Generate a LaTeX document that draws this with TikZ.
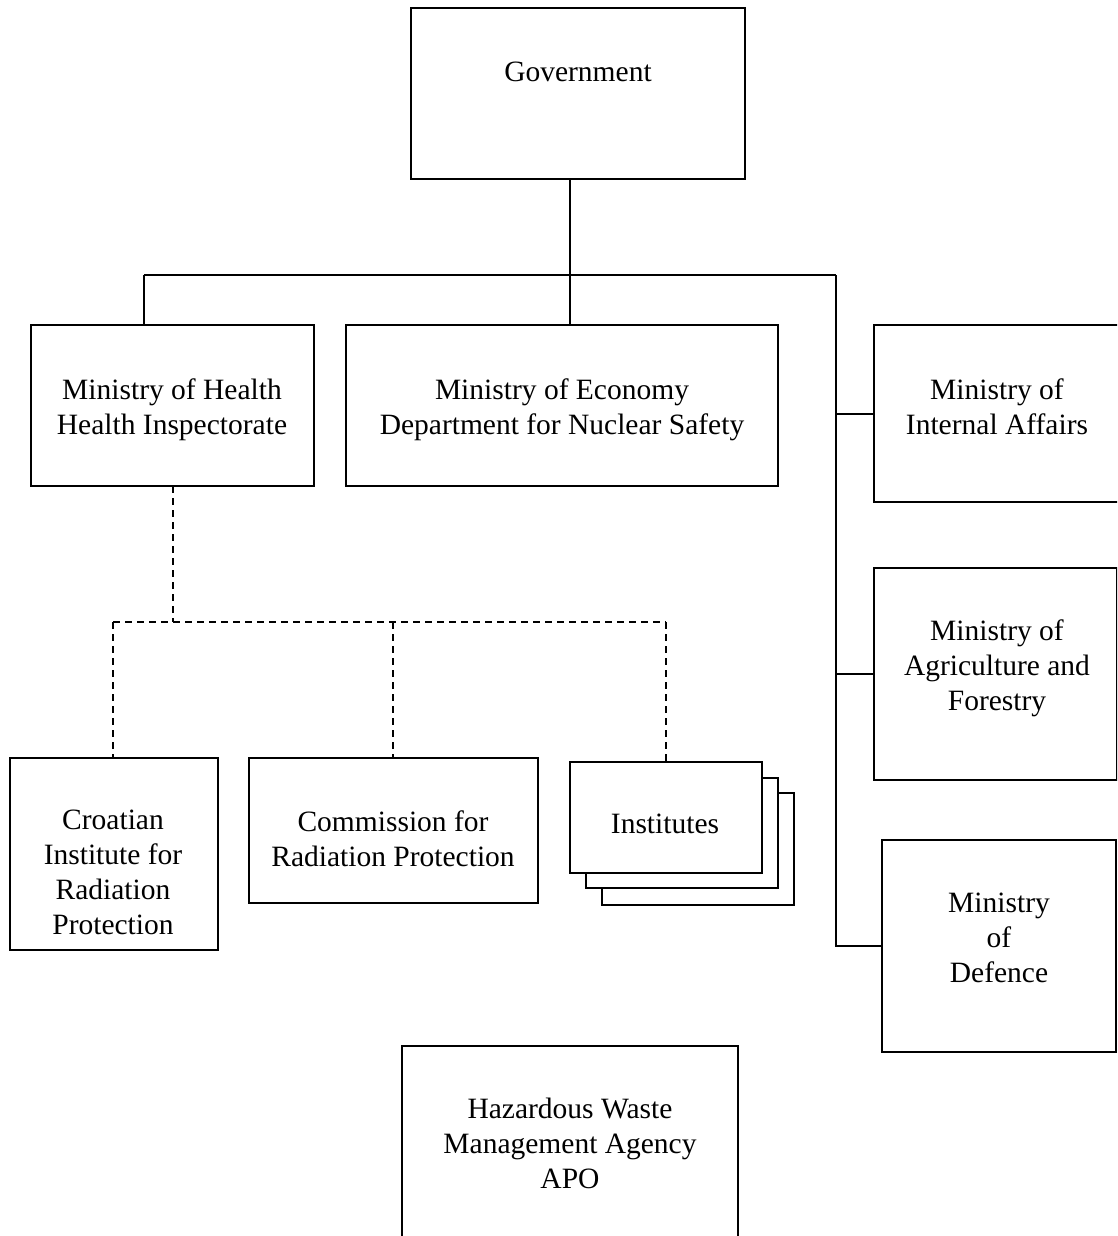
\documentclass[tikz,border=0pt]{standalone}
\usepackage{fontspec}
\setmainfont{Liberation Serif}
\begin{document}
\begin{tikzpicture}[x=1pt,y=-1pt,
  box/.style={draw=black,line width=2pt,fill=white,rectangle,inner sep=0pt,outer sep=0pt},
  txt/.style={align=center,inner sep=0pt,font=\fontsize{29.5}{35}\selectfont},
  conn/.style={draw=black,line width=2pt},
  dconn/.style={draw=black,line width=2pt,dash pattern=on 7pt off 5pt}]
\clip (0,0) rectangle (1117,1236);
\fill[white] (0,0) rectangle (1117,1236);
% boxes
\node[box,minimum width=334pt,minimum height=171pt] (gov) at (578,93.5) {};
\node[box,minimum width=283pt,minimum height=161pt] (moh) at (172.5,405.5) {};
\node[box,minimum width=432pt,minimum height=161pt] (moe) at (562,405.5) {};
\node[box,minimum width=250pt,minimum height=177pt] (int) at (999,413.5) {};
\node[box,minimum width=243pt,minimum height=212pt] (agr) at (995.5,674) {};
\node[box,minimum width=234pt,minimum height=212pt] (def) at (999,946) {};
\node[box,minimum width=208pt,minimum height=192pt] (cro) at (114,854) {};
\node[box,minimum width=289pt,minimum height=145pt] (com) at (393.5,830.5) {};
\node[box,minimum width=192pt,minimum height=112pt] (inst3) at (698,849) {};
\node[box,minimum width=192pt,minimum height=110pt] (inst2) at (682,833) {};
\node[box,minimum width=192pt,minimum height=111pt] (inst1) at (666,817.5) {};
\node[box,minimum width=336pt,minimum height=200pt] (haz) at (570,1146) {};
% texts
\node[txt] (govT) at (578,72) {Government};
\node[txt] (mohT) at (172,410) {Ministry of Health\\Health Inspectorate};
\node[txt] (moeT) at (562,410) {Ministry of Economy\\Department for Nuclear Safety};
\node[txt] (intT) at (997,407) {Ministry of\\Internal Affairs};
\node[txt] (agrT) at (997,668) {Ministry of\\Agriculture and\\Forestry};
\node[txt] (defT) at (999,938) {Ministry\\of\\Defence};
\node[txt] (croT) at (113,872) {Croatian\\Institute for\\Radiation\\Protection};
\node[txt] (comT) at (393,838.5) {Commission for\\Radiation Protection};
\node[txt] (instT) at (665,824) {Institutes};
\node[txt] (hazT) at (570,1143) {Hazardous Waste\\Management Agency\\APO};
% solid connectors
\coordinate (busL) at (144,275);
\coordinate (busM) at (570,275);
\coordinate (busR) at (836,275);
\draw[conn] (gov.south -| busM) -- (busM);
\draw[conn] (busL) -- (busR);
\draw[conn] (busL) -- (busL |- moh.north);
\draw[conn] (busM) -- (busM |- moe.north);
\draw[conn] (busR) |- (def.west);
\draw[conn] (busR |- int.west) -- (int.west);
\draw[conn] (busR |- agr.west) -- (agr.west);
% dashed connectors
\coordinate (dL) at (113,622);
\coordinate (dR) at (666,622);
\coordinate (dM) at (173,622);
\coordinate (dC) at (393,622);
\draw[dconn] (moh.south -| dM) -- (dM);
\draw[dconn] (dL) -- (dR);
\draw[dconn] (dL) -- (dL |- cro.north);
\draw[dconn] (dC) -- (dC |- com.north);
\draw[dconn] (dR) -- (dR |- inst1.north);
\end{tikzpicture}
\end{document}
